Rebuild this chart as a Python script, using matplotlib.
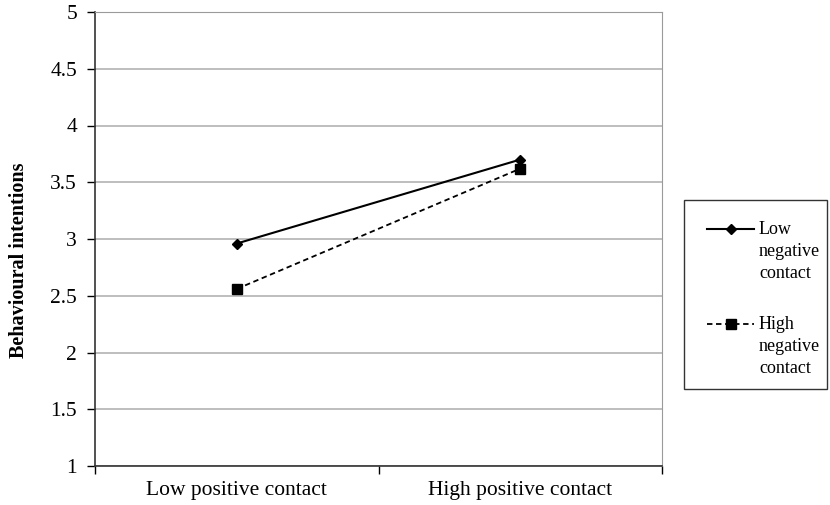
import matplotlib
matplotlib.use('Agg')
import matplotlib.pyplot as plt
from matplotlib.lines import Line2D
from matplotlib.patches import Rectangle

categories = ['Low positive contact', 'High positive contact']
low_negative = [2.96, 3.70]
high_negative = [2.56, 3.62]
series_labels = ['Low\nnegative\ncontact', 'High\nnegative\ncontact']
y_ticks = [1, 1.5, 2, 2.5, 3, 3.5, 4, 4.5, 5]

plt.rcParams['font.family'] = ['Liberation Serif', 'DejaVu Serif']

W, H = 830, 505
fig = plt.figure(figsize=(W / 100, H / 100), dpi=100)
ax = fig.add_axes([95 / W, 1 - 466 / H, 567 / W, 454 / H])

x = list(range(len(categories)))
solid = dict(color='black', linestyle='-', linewidth=1.5, marker='D', markersize=5)
dashed = dict(color='black', linestyle=(0, (3, 2)), linewidth=1.3, marker='s', markersize=6.5)
ax.plot(x, low_negative, **solid)
ax.plot(x, high_negative, **dashed)

ax.set_xlim(-0.5, 1.5)
ax.set_ylim(1, 5)
ax.set_yticks(y_ticks)
ax.set_yticklabels(['%g' % t for t in y_ticks], fontsize=15.5)
ax.set_xticks(x)
ax.set_xticklabels(categories, fontsize=15.5)
ax.tick_params(axis='x', length=0, pad=11)
ax.set_xticks([-0.5, 0.5, 1.5], minor=True)
ax.tick_params(axis='x', which='minor', length=6, width=1, direction='out')
ax.tick_params(axis='y', length=6, width=1, direction='out', pad=7)

ax.grid(axis='y', color='#b3b3b3', linewidth=1.2)
ax.set_axisbelow(True)
for side in ['top', 'right']:
    ax.spines[side].set_color('#9a9a9a')
for side in ['left', 'bottom']:
    ax.spines[side].set_color('#333333')
    ax.spines[side].set_linewidth(1.2)

fig.text(19 / W, 1 - 260 / H, 'Behavioural intentions', rotation=90,
         fontsize=14.5, fontweight='bold', ha='center', va='center')

# legend box drawn by hand, Excel style
fig.patches.append(Rectangle((684 / W, 1 - 389 / H), 143 / W, 189 / H,
                             transform=fig.transFigure, fill=False,
                             edgecolor='#333333', linewidth=1.0))
for style, label, hy in [(solid, series_labels[0], 229), (dashed, series_labels[1], 324)]:
    fig.lines.append(Line2D([707 / W, 754 / W], [1 - hy / H] * 2,
                            transform=fig.transFigure,
                            **{k: v for k, v in style.items() if k != 'marker'}))
    fig.lines.append(Line2D([730.5 / W], [1 - hy / H], transform=fig.transFigure,
                            color='black', linestyle='none', marker=style['marker'],
                            markersize=style['markersize']))
    for i, part in enumerate(label.split('\n')):
        fig.text(759 / W, 1 - (hy + 5 + 22 * i) / H, part, fontsize=13,
                 ha='left', va='baseline')

fig.savefig('out.png', dpi=100)
